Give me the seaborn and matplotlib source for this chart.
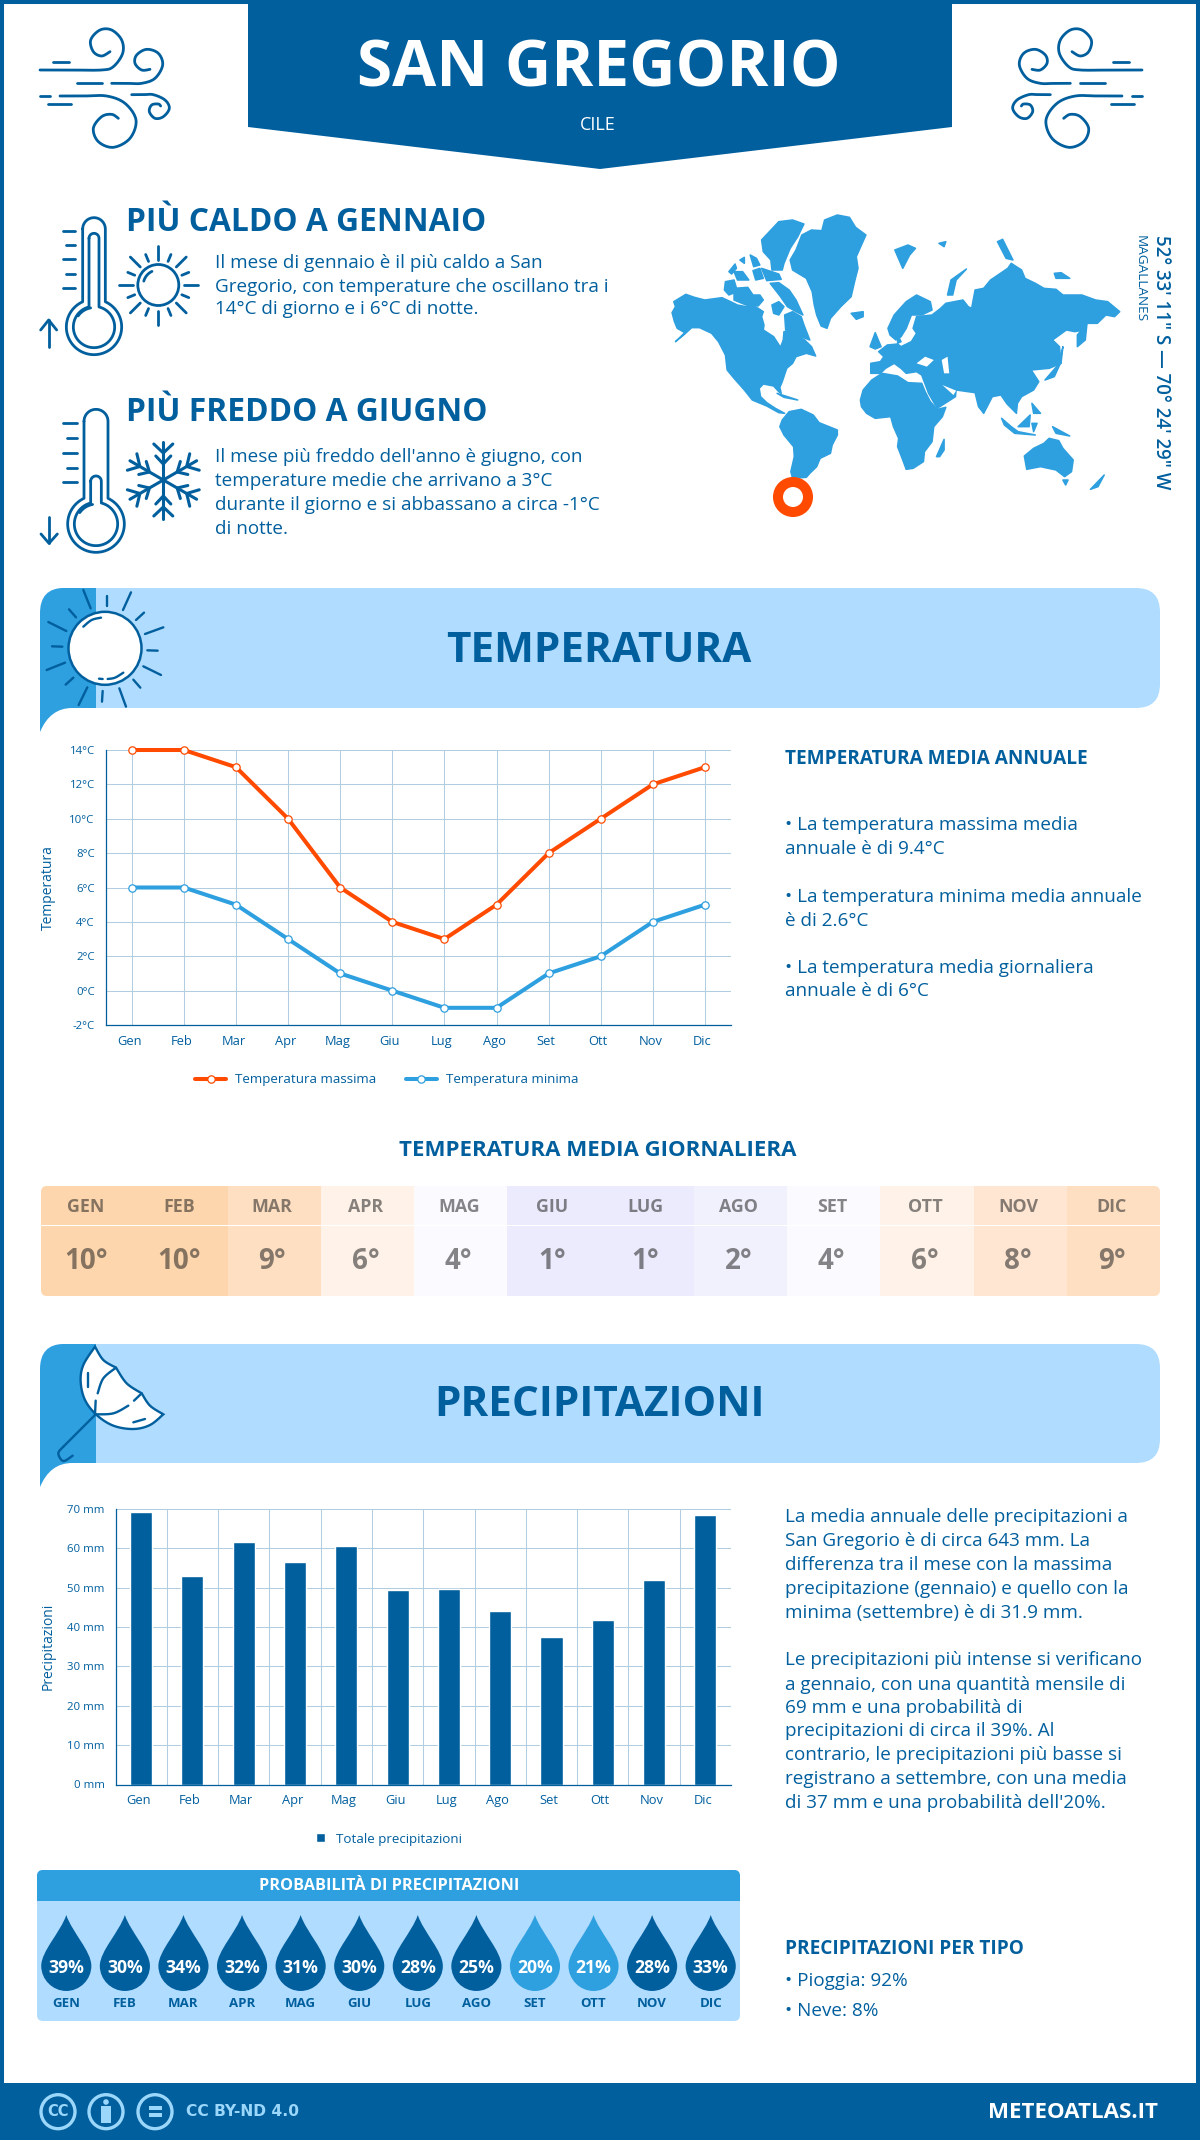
#!/usr/bin/env python3
# -*- coding: utf-8 -*-

import numpy as np
import pandas as pd
import seaborn as sns
import matplotlib.pyplot as plt
from matplotlib.colors import LinearSegmentedColormap
from matplotlib.patches import Circle, FancyBboxPatch, PathPatch, Polygon, Rectangle
from matplotlib.path import Path
from matplotlib.ticker import FuncFormatter, MultipleLocator
from matplotlib.transforms import ScaledTranslation

W, H = 1200, 2140
DARK = '#015f9e'
BLUE = '#2e9fdf'
PALE = '#b0dcff'
ORANGE = '#ff4a00'
GRID = '#b3cde0'

mesi = ['Gen', 'Feb', 'Mar', 'Apr', 'Mag', 'Giu', 'Lug', 'Ago', 'Set', 'Ott', 'Nov', 'Dic']
mesi_upper = ['GEN', 'FEB', 'MAR', 'APR', 'MAG', 'GIU', 'LUG', 'AGO', 'SET', 'OTT', 'NOV', 'DIC']
temp_max = [14, 14, 13, 10, 6, 4, 3, 5, 8, 10, 12, 13]
temp_min = [6, 6, 5, 3, 1, 0, -1, -1, 1, 2, 4, 5]
temp_media = [10, 10, 9, 6, 4, 1, 1, 2, 4, 6, 8, 9]
precip = [69.3, 53.1, 61.5, 56.6, 60.7, 49.5, 49.8, 44.1, 37.6, 41.9, 52.0, 68.6]
prob = [39, 30, 34, 32, 31, 30, 28, 25, 20, 21, 28, 33]

# map outlines, in the coordinates of the crop they were traced from
land = [
    # north america
    [(35, 338), (45, 320), (40, 305), (75, 283), (100, 292), (130, 300), (180, 293), (205, 305), (225, 315),
     (250, 320), (262, 312), (285, 325), (300, 335), (295, 350), (302, 375), (300, 390), (330, 410), (350, 442),
     (358, 420), (360, 395), (375, 392), (395, 405), (420, 420), (440, 440), (452, 468), (425, 460), (395, 470),
     (385, 490), (368, 505), (355, 545), (348, 562), (352, 580), (345, 575), (330, 558), (300, 552), (288, 565),
     (292, 590), (310, 608), (335, 625), (362, 640), (345, 638), (310, 618), (268, 600), (245, 570), (215, 535),
     (195, 510), (190, 465), (170, 425), (150, 400), (115, 383), (92, 383), (72, 402), (45, 425), (72, 398),
     (50, 385), (42, 365)],
    [(362, 345), (385, 335), (410, 350), (418, 375), (435, 420), (395, 405), (365, 390)],
    [(320, 250), (345, 248), (375, 270), (395, 300), (415, 345), (395, 335), (370, 320), (350, 290)],
    [(215, 265), (255, 262), (270, 285), (290, 285), (300, 300), (285, 318), (250, 315), (215, 300)],
    [(190, 245), (215, 240), (225, 275), (200, 285), (187, 270)],
    [(295, 205), (345, 222), (352, 238), (310, 242)], [(270, 212), (290, 205), (300, 235), (278, 240)],
    [(200, 215), (218, 192), (222, 205), (208, 222)], [(215, 215), (240, 215), (258, 240), (225, 240)],
    [(262, 165), (280, 175), (290, 195), (272, 200)], [(232, 180), (245, 172), (245, 190)],
    [(325, 315), (345, 305), (360, 320), (345, 345), (330, 340)],
    [(295, 120), (345, 65), (385, 60), (418, 72), (400, 110), (378, 145), (360, 190), (355, 210), (325, 210),
     (322, 180), (300, 155)],
    # greenland
    [(378, 180), (395, 150), (412, 105), (440, 90), (470, 92), (478, 60), (515, 45), (550, 52), (568, 82), (598, 105),
     (585, 135), (570, 170), (575, 205), (565, 245), (555, 290), (525, 320), (495, 355), (485, 385), (468, 378),
     (455, 345), (448, 315), (442, 275), (425, 235), (385, 210)],
    # south america
    [(348, 680), (355, 660), (375, 635), (410, 628), (445, 645), (462, 668), (515, 690), (515, 705), (500, 735),
     (495, 760), (465, 775), (455, 800), (435, 820), (425, 832), (385, 835), (380, 815), (390, 770), (388, 740),
     (360, 705)],
    # africa
    [(582, 600), (590, 570), (615, 540), (645, 520), (690, 528), (720, 548), (760, 550), (770, 575), (785, 605),
     (805, 628), (830, 622), (820, 650), (795, 680), (790, 725), (768, 755), (765, 785), (735, 805), (715, 808),
     (705, 780), (690, 740), (693, 715), (678, 680), (670, 650), (625, 655), (600, 640), (585, 620)],
    # eurasia
    [(612, 520), (612, 490), (640, 485), (650, 470), (635, 455), (660, 435), (690, 432), (700, 440), (730, 425),
     (745, 400), (735, 385), (745, 350), (790, 345), (815, 325), (830, 310), (880, 300), (895, 320), (905, 325),
     (915, 270), (940, 265), (960, 240), (1010, 205), (1020, 190), (1050, 210), (1060, 235), (1090, 250), (1115, 265),
     (1150, 268), (1170, 285), (1225, 285), (1265, 300), (1300, 305), (1335, 335), (1320, 350), (1295, 345),
     (1270, 370), (1240, 370), (1230, 390), (1205, 395), (1180, 390), (1140, 420), (1160, 440), (1165, 490),
     (1130, 505), (1078, 510), (1100, 545), (1085, 570), (1050, 590), (1038, 610), (1035, 640), (1008, 612),
     (990, 585), (965, 590), (940, 640), (925, 620), (915, 578), (860, 570), (858, 590), (805, 625), (780, 580),
     (760, 525), (745, 515), (715, 520), (700, 505), (680, 490), (655, 505), (640, 520)],
    [(662, 385), (680, 345), (715, 305), (745, 285), (785, 305), (790, 330), (760, 345), (730, 345), (715, 385),
     (700, 410), (685, 420), (668, 405)],
    [(690, 405), (700, 425), (690, 430)],
    # australia and islands
    [(1058, 768), (1085, 745), (1115, 730), (1130, 715), (1158, 722), (1170, 745), (1200, 780), (1195, 815),
     (1175, 830), (1150, 810), (1105, 800), (1065, 808)],
    [(610, 440), (625, 398), (642, 440), (625, 447)], [(555, 340), (590, 335), (590, 350), (570, 358)],
    [(682, 150), (720, 135), (742, 145), (725, 165), (705, 205)], [(835, 285), (845, 240), (890, 207), (860, 240), (850, 285)],
    [(1212, 440), (1212, 405), (1240, 370), (1235, 420)], [(1118, 540), (1160, 490), (1170, 440), (1165, 485), (1145, 530)],
    [(803, 770), (825, 718), (825, 750), (812, 770)], [(1250, 868), (1290, 825), (1272, 860)],
    [(1040, 680), (1075, 645), (1072, 680)], [(992, 655), (1020, 680), (1040, 695), (1090, 705), (1030, 700), (1000, 675)],
    [(1140, 680), (1190, 708), (1150, 700)], [(1080, 610), (1105, 640), (1085, 640)],
    [(1080, 670), (1095, 670), (1085, 695)], [(1170, 840), (1185, 840), (1178, 855)],
    [(980, 125), (995, 118), (1025, 180), (1005, 175)], [(1145, 220), (1165, 218), (1190, 235), (1150, 235)],
    [(340, 580), (400, 600), (360, 592)], [(810, 130), (830, 125), (825, 140)],
]
sea = [
    [(745, 490), (770, 470), (795, 480), (775, 500)], [(818, 480), (835, 470), (840, 520), (825, 520)],
    [(820, 555), (860, 572), (852, 585)],
]

sns.set_theme(style='white')
plt.rcParams['font.family'] = ['Open Sans', 'DejaVu Sans']
plt.rcParams['axes.unicode_minus'] = False


def pixel_axes(fig, x0, y0, x1, y1):
    return fig.add_axes([x0 / W, 1 - y1 / H, (x1 - x0) / W, (y1 - y0) / H])


def smooth(pts, n=14):
    # catmull-rom through the given points
    p = np.array(pts, dtype=float)
    p = np.vstack([p[0], p, p[-1]])
    t = np.linspace(0, 1, n)[:, None]
    out = []
    for i in range(1, len(p) - 2):
        a, b, c, d = p[i - 1], p[i], p[i + 1], p[i + 2]
        out.append(0.5 * (2 * b + (c - a) * t + (2 * a - 5 * b + 4 * c - d) * t ** 2 + (3 * b - a - 3 * c + d) * t ** 3))
    return np.vstack(out)


def stroke(ax, pts, fx=lambda x: x, fy=lambda y: y, lw=2.0, color=DARK, curved=False):
    p = smooth(pts) if curved else np.array(pts, dtype=float)
    ax.plot(fx(p[:, 0]), fy(p[:, 1]), color=color, lw=lw, solid_capstyle='round', solid_joinstyle='round')


def txt(ax, x, y, s, size, weight='normal', color=DARK, ha='left', **kw):
    ax.text(x, y, s, fontsize=size, fontweight=weight, color=color, ha=ha, va='center', **kw)


def wind_icon(ax, mirror=False):
    fx = (lambda x: 1182 - (30 + x / 3)) if mirror else (lambda x: 30 + x / 3)
    fy = lambda y: 20 + y / 3
    for a in [[(70, 125), (118, 125)], [(140, 190), (215, 190)], [(30, 228), (60, 228)], [(55, 253), (123, 253)]]:
        stroke(ax, a, fx, fy)
    curves = [
        [(30, 150), (120, 150), (215, 150), (250, 140), (278, 100), (275, 60), (245, 30), (210, 30), (182, 60),
         (190, 95), (215, 108), (240, 95)],
        [(245, 190), (290, 190), (335, 190), (375, 175), (398, 135), (385, 100), (350, 88), (320, 105), (315, 130),
         (335, 150), (360, 148)],
        [(90, 228), (160, 228), (230, 228), (285, 250), (318, 300), (300, 355), (250, 382), (205, 365), (190, 325),
         (215, 290), (245, 283), (265, 295)],
        [(305, 224), (340, 224), (370, 224), (405, 240), (418, 265), (400, 290), (375, 295), (358, 275), (365, 255),
         (385, 252), (392, 258)],
    ]
    for c in curves:
        stroke(ax, c, fx, fy, curved=True)


def tube(cx, cy, half, top, r):
    a = np.arcsin(half / r)
    t1 = np.linspace(np.pi, 0, 24)
    t2 = np.linspace(a, 2 * np.pi - a, 70)
    xs = np.r_[cx + half * np.cos(t1), cx + r * np.sin(t2), cx - half]
    ys = np.r_[top + half - half * np.sin(t1), cy - r * np.cos(t2), top + half]
    return np.c_[xs, ys]


def thermometer(ax, y0, cx, cy, oh, otop, ro, ih, itop, ri, ticks, tick_x, arrow):
    fx = lambda x: 30 + x / 3
    fy = lambda y: y0 + y / 3
    stroke(ax, tube(cx, cy, oh, otop, ro), fx, fy)
    stroke(ax, tube(cx, cy, ih, itop, ri), fx, fy)
    t = np.radians(np.linspace(215, 260, 12))
    stroke(ax, np.c_[cx + 0.7 * ro * np.cos(t), cy + 0.7 * ro * np.sin(t)], fx, fy)
    for i, y in enumerate(ticks):
        stroke(ax, [(tick_x[i % 2], y), (tick_x[2], y)], fx, fy)
    stroke(ax, arrow[0], fx, fy)
    stroke(ax, arrow[1], fx, fy)


def sun_small(ax):
    cx, cy = 158.3, 285
    ax.add_patch(Circle((cx, cy), 20.5, fill=False, ec=DARK, lw=2.0))
    for k in range(16):
        t = np.radians(k * 22.5)
        r0, r1 = (25.5, 39.5) if k % 2 == 0 else (25.5, 33)
        stroke(ax, [(cx + r0 * np.cos(t), cy + r0 * np.sin(t)), (cx + r1 * np.cos(t), cy + r1 * np.sin(t))])
    t = np.radians(np.linspace(195, 245, 10))
    stroke(ax, np.c_[cx + 15 * np.cos(t), cy + 15 * np.sin(t)])


def snowflake(ax):
    cx, cy = 163.3, 480
    for k in range(6):
        t = np.radians(90 + k * 60)
        u = np.array([np.cos(t), np.sin(t)])
        n = np.array([-u[1], u[0]])
        c = np.array([cx, cy])
        stroke(ax, [c, c + 38.5 * u], lw=2.2)
        for r, tip, off in [(16, 24, 7.5), (27, 36, 9.5)]:
            stroke(ax, [c + tip * u + off * n, c + r * u, c + tip * u - off * n], lw=2.2)


def banner(ax, y0, y1):
    ax.add_patch(FancyBboxPatch((64, y0 + 24), 1072, y1 - y0 - 48, boxstyle='round,pad=24,rounding_size=24',
                                fc=PALE, ec='none'))
    verts = [(96, y0), (64, y0), (40, y0), (40, y0 + 26), (40, y1 + 24), (50, y1), (72, y1), (96, y1), (96, y0)]
    codes = [Path.MOVETO, Path.LINETO, Path.CURVE3, Path.CURVE3, Path.LINETO, Path.CURVE3, Path.CURVE3, Path.LINETO,
             Path.CLOSEPOLY]
    ax.add_patch(PathPatch(Path(verts, codes), fc=BLUE, ec='none'))


def sun_banner(ax):
    fx = lambda x: 30 + x / 3
    fy = lambda y: 580 + y / 3
    ax.add_patch(Circle((105, 648.3), 36.5, fc='white', ec=DARK, lw=1.8))
    rays = [[(160, 30), (182, 85)], [(230, 47), (230, 78)], [(303, 37), (279, 90)], [(342, 98), (318, 120)],
            [(400, 142), (345, 162)], [(383, 212), (352, 211)], [(393, 285), (340, 259)], [(331, 323), (310, 299)],
            [(268, 325), (288, 380)], [(218, 333), (216, 365)], [(172, 322), (146, 375)], [(130, 293), (107, 314)],
            [(105, 248), (50, 270)], [(97, 200), (66, 199)], [(109, 153), (55, 126)], [(138, 112), (117, 88)],
            [(207, 296), (218, 297)]]
    for r in rays:
        stroke(ax, r, fx, fy, lw=1.7)
    stroke(ax, [(160, 140), (185, 120), (213, 113)], fx, fy, lw=1.7, curved=True)
    stroke(ax, [(233, 297), (255, 293), (280, 278)], fx, fy, lw=1.7, curved=True)


def umbrella(ax):
    fx = lambda x: 30 + x / 3
    fy = lambda y: 1335 + y / 3
    edge = np.vstack([
        smooth([(195, 35), (220, 75), (258, 98)]), smooth([(258, 98), (290, 145), (335, 175)]),
        smooth([(335, 175), (360, 212), (400, 238)]),
        smooth([(400, 238), (360, 270), (310, 282), (250, 272), (200, 240), (165, 195), (152, 140), (160, 90), (195, 35)]),
    ])
    ax.add_patch(Polygon(np.c_[fx(edge[:, 0]), fy(edge[:, 1])], closed=True, fc='white', ec=DARK, lw=1.7))
    for c in [[(195, 238), (250, 235), (295, 212)], [(258, 98), (220, 130), (203, 175)],
              [(100, 335), (85, 355), (100, 378), (128, 362)]]:
        stroke(ax, c, fx, fy, lw=1.7, curved=True)
    for c in [[(312, 197), (335, 175)], [(197, 197), (195, 238)], [(173, 115), (173, 155)], [(310, 262), (345, 252)],
              [(195, 240), (100, 335)]]:
        stroke(ax, c, fx, fy, lw=1.7)


def world_map(ax):
    fx = lambda x: 660 + np.asarray(x) / 2.904
    fy = lambda y: 200 + np.asarray(y) / 3
    for poly in land:
        p = np.array(poly, dtype=float)
        # the edge closes the thinnest channels between the traced shapes
        ax.add_patch(Polygon(np.c_[fx(p[:, 0]), fy(p[:, 1])], closed=True, fc=BLUE, ec=BLUE, lw=1.1, joinstyle='round'))
    for poly in sea:
        p = np.array(poly, dtype=float)
        ax.add_patch(Polygon(np.c_[fx(p[:, 0]), fy(p[:, 1])], closed=True, fc='white', ec='none'))
    ax.add_patch(Circle((793, 497), 15, fc='white', ec=ORANGE, lw=7.2))


def page_decor(ax):
    ax.add_patch(Rectangle((0, 0), W, H, fc='none', ec=DARK, lw=5.8))
    ax.add_patch(Polygon([(248, 0), (952, 0), (952, 127), (600, 169), (248, 127)], closed=True, fc=DARK, ec='none'))
    ax.add_patch(Rectangle((0, 2083), W, 57, fc=DARK, ec='none'))
    wind_icon(ax)
    wind_icon(ax, mirror=True)
    txt(ax, 599, 70, 'SAN GREGORIO', 46, 'bold', 'white', ha='center')
    txt(ax, 598, 125.5, 'CILE', 13, color='white', ha='center')

    thermometer(ax, 205, 192, 366, 34, 38, 83, 15, 85, 62, [77, 120, 163, 206, 248], (98, 108, 135),
                ([(56, 425), (56, 345)], [(32, 375), (56, 345), (80, 375)]))
    thermometer(ax, 400, 198, 372, 36, 28, 85, 16, 228, 65, [70, 115, 158, 203, 247], (100, 110, 140),
                ([(57, 350), (57, 430)], [(33, 402), (57, 430), (82, 402)]))
    sun_small(ax)
    snowflake(ax)
    txt(ax, 125.5, 222.5, 'PIÙ CALDO A GENNAIO', 22.9, 'bold')
    for y, s in zip([263.5, 286.5, 309.5], ['Il mese di gennaio è il più caldo a San',
                                            'Gregorio, con temperature che oscillano tra i',
                                            '14°C di giorno e i 6°C di notte.']):
        txt(ax, 215, y, s, 13.55)
    txt(ax, 125.5, 412.5, 'PIÙ FREDDO A GIUGNO', 22.9, 'bold')
    for y, s in zip([457.5, 480.5, 504.5, 528.5], ["Il mese più freddo dell'anno è giugno, con",
                                                   'temperature medie che arrivano a 3°C',
                                                   'durante il giorno e si abbassano a circa -1°C',
                                                   'di notte.']):
        txt(ax, 215, y, s, 13.55)
    world_map(ax)
    txt(ax, 1161, 362, '52° 33\' 11" S — 70° 24\' 29" W', 13.4, 'semibold', ha='center', rotation=-90)
    txt(ax, 1140, 279, 'MAGALLANES', 9.7, ha='center', rotation=-90)

    banner(ax, 588, 708)
    sun_banner(ax)
    txt(ax, 599, 651, 'TEMPERATURA', 30.4, 'bold', ha='center')
    txt(ax, 785, 759, 'TEMPERATURA MEDIA ANNUALE', 13.7, 'bold')
    for y, s in zip([825.5, 848.5, 897, 920.5, 968, 991.5],
                    ['• La temperatura massima media', 'annuale è di 9.4°C',
                     '• La temperatura minima media annuale', 'è di 2.6°C',
                     '• La temperatura media giornaliera', 'annuale è di 6°C']):
        txt(ax, 785, y, s, 13.55)
    txt(ax, 598, 1150, 'TEMPERATURA MEDIA GIORNALIERA', 16, 'bold', ha='center')

    banner(ax, 1344, 1463)
    umbrella(ax)
    txt(ax, 599, 1406, 'PRECIPITAZIONI', 30.4, 'bold', ha='center')
    righe = ['La media annuale delle precipitazioni a', 'San Gregorio è di circa 643 mm. La',
             'differenza tra il mese con la massima', 'precipitazione (gennaio) e quello con la',
             'minima (settembre) è di 31.9 mm.',
             'Le precipitazioni più intense si verificano', 'a gennaio, con una quantità mensile di',
             '69 mm e una probabilità di', 'precipitazioni di circa il 39%. Al',
             'contrario, le precipitazioni più basse si', 'registrano a settembre, con una media',
             "di 37 mm e una probabilità dell'20%."]
    for y, s in zip([1517.5, 1541.5, 1565, 1588.5, 1613, 1660, 1684.5, 1708, 1730.5, 1755, 1778.5, 1802.5], righe):
        txt(ax, 785, y, s, 13.55)
    txt(ax, 785, 1949, 'PRECIPITAZIONI PER TIPO', 13.65, 'bold')
    txt(ax, 785, 1981.5, '• Pioggia: 92%', 13.55)
    txt(ax, 785, 2010.5, '• Neve: 8%', 13.55)

    panel = FancyBboxPatch((42, 1875), 693, 141, boxstyle='round,pad=5,rounding_size=6', fc=PALE, ec='none')
    ax.add_patch(panel)
    head = Rectangle((37, 1870), 703, 31, fc=BLUE, ec='none')
    ax.add_patch(head)
    head.set_clip_path(panel)
    txt(ax, 389, 1886.5, 'PROBABILITÀ DI PRECIPITAZIONI', 11.7, 'bold', 'white', ha='center')

    icon = '#9bd7fa'
    for cx in [58, 106, 155]:
        ax.add_patch(Circle((cx, 2111.7), 17, fc='none', ec=icon, lw=2.4))
    txt(ax, 58, 2111.5, 'CC', 10.5, 'bold', icon, ha='center', family='DejaVu Sans')
    ax.add_patch(Circle((106, 2102), 2.8, fc=icon, ec='none'))
    ax.add_patch(Rectangle((101, 2106), 10, 17, fc=icon, ec='none'))
    ax.add_patch(Rectangle((149, 2106), 13, 3.6, fc=icon, ec='none'))
    ax.add_patch(Rectangle((149, 2113), 13, 3.6, fc=icon, ec='none'))
    txt(ax, 186, 2111.7, 'CC BY-ND 4.0', 11.2, 'bold', icon, family='DejaVu Sans')
    txt(ax, 1158, 2113, 'METEOATLAS.IT', 16, 'bold', 'white', ha='right')


def style_axes(fig, ax, ylabel, ylabel_x, tick_fmt):
    ax.tick_params(axis='y', which='major', length=4, width=0.8, color=DARK, labelsize=8.2, labelcolor=DARK, pad=4)
    ax.tick_params(axis='x', which='major', length=0, labelsize=9.3, labelcolor=DARK, pad=7)
    for s in ['top', 'right']:
        ax.spines[s].set_visible(False)
    for s in ['left', 'bottom']:
        ax.spines[s].set_color(DARK)
        ax.spines[s].set_linewidth(0.9)
    ax.set_axisbelow(True)
    ax.set_xlabel('')
    ax.set_ylabel(ylabel, fontsize=10, color=DARK)
    ax.yaxis.set_label_coords(ylabel_x, 0.5)
    ax.yaxis.set_major_formatter(FuncFormatter(tick_fmt))
    # month labels sit a little left of their tick
    shift = ScaledTranslation(-2.5 / 100, 0, fig.dpi_scale_trans)
    for lab in ax.get_xticklabels():
        lab.set_transform(lab.get_transform() + shift)


def temp_chart(fig):
    ax = pixel_axes(fig, 105.7, 750, 731, 1025)
    df = pd.DataFrame({'mese': mesi * 2, 'temp': temp_max + temp_min,
                       'serie': ['Temperatura massima'] * 12 + ['Temperatura minima'] * 12})
    sns.lineplot(data=df, x='mese', y='temp', hue='serie', palette=[ORANGE, BLUE], sort=False, ax=ax, lw=2.9,
                 marker='o', markersize=5.3, markerfacecolor='white', markeredgewidth=0.9, clip_on=False)
    for ln in ax.lines:
        ln.set_markeredgecolor(ln.get_color())
    ax.set_xlim(-0.5, 11.5)
    ax.set_ylim(-2, 14)
    ax.yaxis.set_major_locator(MultipleLocator(2))
    ax.grid(True, color=GRID, lw=0.75)
    style_axes(fig, ax, 'Temperatura', (56 - 105.7) / 625.3, lambda v, p: f'{int(v)}°C')
    sns.move_legend(ax, 'center', bbox_to_anchor=(387 / W, 1 - 1080 / H), bbox_transform=fig.transFigure, ncols=2,
                    title=None, frameon=False, fontsize=9.6, labelcolor=DARK, handlelength=2.3, columnspacing=2.2,
                    handletextpad=0.7)
    for ln in ax.get_legend().get_lines():
        ln.set_markeredgecolor(ln.get_color())


def temp_table(fig, table_clip):
    cols = ['#ebebfd', '#f1f1fe', '#fbfaff', '#fff2e8', '#ffe6d2', '#fedfc2', '#fdd6ad']
    cmap = LinearSegmentedColormap.from_list('tm', list(zip(np.array([1, 2, 4, 6, 8, 9, 10]) / 9 - 1 / 9, cols)))
    vals = np.array([temp_media])
    head = pixel_axes(fig, 41, 1186, 1160, 1224.5)
    body = pixel_axes(fig, 41, 1225.5, 1160, 1296)
    sns.heatmap(vals, ax=head, cmap=cmap, vmin=1, vmax=10, cbar=False, annot=np.array([mesi_upper]), fmt='',
                annot_kws={'fontsize': 12.8, 'fontweight': 'bold', 'color': '#222222', 'alpha': 0.55})
    sns.heatmap(vals, ax=body, cmap=cmap, vmin=1, vmax=10, cbar=False,
                annot=np.array([[f'{v}°' for v in temp_media]]), fmt='',
                annot_kws={'fontsize': 20, 'fontweight': 'bold', 'color': '#222222', 'alpha': 0.55})
    for ax, dy in [(head, 0.05), (body, 0.015)]:
        ax.set_axis_off()
        ax.collections[0].set_clip_path(table_clip)
        for t in ax.texts:
            t.set_position((t.get_position()[0] - 0.02, t.get_position()[1] + dy))


def precip_chart(fig):
    ax = pixel_axes(fig, 115.5, 1509, 731, 1784.5)
    df = pd.DataFrame({'mese': mesi, 'precip': precip})
    sns.barplot(data=df, x='mese', y='precip', color=DARK, saturation=1, width=0.43, ax=ax,
                label='Totale precipitazioni')
    ax.set_xlim(-0.5, 11.5)
    ax.set_ylim(0, 70)
    ax.yaxis.set_major_locator(MultipleLocator(10))
    ax.set_xticks(np.arange(12) + 0.5, minor=True)
    ax.tick_params(axis='x', which='minor', length=0)
    ax.grid(True, axis='y', color=GRID, lw=0.75)
    ax.grid(True, axis='x', which='minor', color=GRID, lw=0.75)
    style_axes(fig, ax, 'Precipitazioni', (56 - 115.5) / 615.5, lambda v, p: f'{int(v)} mm')
    ax.legend(loc='center', bbox_to_anchor=(389 / W, 1 - 1839 / H), bbox_transform=fig.transFigure, frameon=False,
              fontsize=9.6, labelcolor=DARK, handlelength=0.65, handleheight=0.65, handletextpad=0.8)


def drops(fig):
    ax = pixel_axes(fig, 37, 1915, 740, 1991)
    ax.patch.set_visible(False)
    verts = [(0, 1), (0.15, 0.55), (0.66, 0.05), (0.66, -0.34), (0.66, -0.70), (0.36, -1), (0, -1), (-0.36, -1),
             (-0.66, -0.70), (-0.66, -0.34), (-0.66, 0.05), (-0.15, 0.55), (0, 1), (0, 1)]
    codes = [Path.MOVETO] + [Path.CURVE4] * 12 + [Path.CLOSEPOLY]
    drop = Path(verts, codes)
    df = pd.DataFrame({'mese': mesi_upper, 'y': [0] * 12, 'livello': ['alta' if p > 21 else 'bassa' for p in prob]})
    sns.scatterplot(data=df, x='mese', y='y', hue='livello', palette={'alta': DARK, 'bassa': BLUE}, marker=drop,
                    s=2990, linewidth=0, legend=False, clip_on=False, ax=ax)
    ax.set_xlim(-0.5, 11.5)
    ax.set_ylim(-1, 1)
    ax.set_axis_off()
    for i, p in enumerate(prob):
        ax.text(i, -0.39, f'{p}%', fontsize=12.7, fontweight='bold', color='white', ha='center', va='center')
        ax.text(i, -1.34, mesi_upper[i], fontsize=9.5, fontweight='bold', color=DARK, ha='center', va='center')


if __name__ == "__main__":
    fig = plt.figure(figsize=(W / 100, H / 100), dpi=100, facecolor='white')
    page = fig.add_axes([0, 0, 1, 1])
    page.set_xlim(0, W)
    page.set_ylim(H, 0)
    page.set_axis_off()
    page_decor(page)

    temp_chart(fig)
    clip = FancyBboxPatch((46, 1191), 1109, 100, boxstyle='round,pad=5,rounding_size=6', transform=page.transData)
    temp_table(fig, clip)
    precip_chart(fig)
    drops(fig)

    fig.savefig('out.png', dpi=100, facecolor='white')
